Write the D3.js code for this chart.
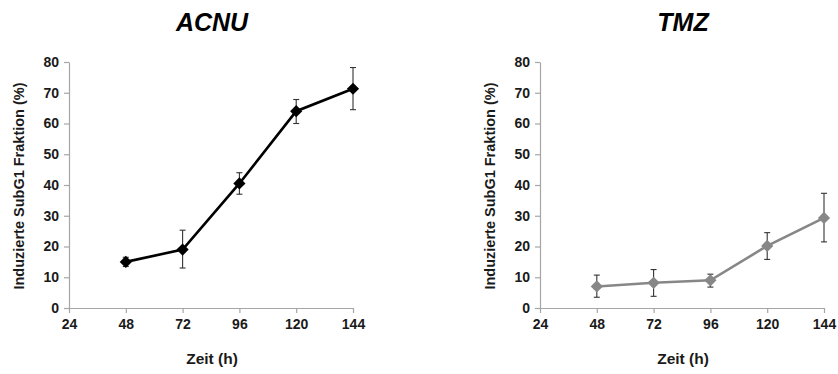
<!DOCTYPE html>
<html><head><meta charset="utf-8">
<script src="https://cdn.jsdelivr.net/npm/d3@7"></script>
<style>body{margin:0;background:#fff}svg{display:block}</style>
</head><body>
<svg id="c" width="838" height="374"></svg>
<script>
const hours = [48, 72, 96, 120, 144];
const xTicks = [24, 48, 72, 96, 120, 144];
const yTicks = [0, 10, 20, 30, 40, 50, 60, 70, 80];
const acnuMean = [15, 19, 40.5, 64, 71.3];
const acnuLow  = [13.5, 13, 37, 60, 64.5];
const acnuHigh = [16.5, 25.3, 44, 67.8, 78.2];
const tmzMean = [7, 8.2, 9, 20.2, 29.3];
const tmzLow  = [3.5, 3.8, 6.8, 15.8, 21.5];
const tmzHigh = [10.7, 12.5, 11, 24.5, 37.3];
const titles = ["ACNU", "TMZ"];
const yTitle = "Induzierte SubG1 Fraktion (%)";
const xTitle = "Zeit (h)";

const svg = d3.select("#c");
const panels = [
  {title: titles[0], mean: acnuMean, low: acnuLow, high: acnuHigh, color: "#000", left: 69},
  {title: titles[1], mean: tmzMean, low: tmzLow, high: tmzHigh, color: "#878787", left: 540}
];
const plotW = 284, plotTop = 62, plotBottom = 308;
const font = "Liberation Sans, Arial, sans-serif";

panels.forEach(p => {
  const g = svg.append("g");
  const x = d3.scaleLinear().domain([24, 144]).range([p.left, p.left + plotW]);
  const y = d3.scaleLinear().domain([0, 80]).range([plotBottom, plotTop]);

  const xa = g.append("g").attr("transform", `translate(0,${plotBottom})`)
    .call(d3.axisBottom(x).tickValues(xTicks).tickSize(5).tickSizeOuter(0).tickPadding(6));
  const ya = g.append("g").attr("transform", `translate(${p.left},0)`)
    .call(d3.axisLeft(y).tickValues(yTicks).tickSize(5).tickSizeOuter(0).tickPadding(5));
  [xa, ya].forEach(a => {
    a.selectAll("path,line").attr("stroke", "#a6a6a6").attr("stroke-width", 1.2);
    a.selectAll("text").attr("font-family", font)
      .attr("font-size", 14).attr("font-weight", "bold").attr("fill", "#1a1a1a");
  });

  g.append("text").attr("x", p.left + 143).attr("y", 31).attr("text-anchor", "middle")
    .attr("font-family", font).attr("font-size", 25)
    .attr("font-weight", "bold").attr("font-style", "italic").attr("fill", "#000").text(p.title);

  g.append("text").attr("x", p.left + 143).attr("y", 364).attr("text-anchor", "middle")
    .attr("font-family", font).attr("font-size", 15.5)
    .attr("font-weight", "bold").attr("fill", "#1a1a1a").text(xTitle);

  g.append("text").attr("transform", `translate(${p.left - 45},${(plotTop + plotBottom) / 2 + 1}) rotate(-90)`)
    .attr("text-anchor", "middle")
    .attr("font-family", font).attr("font-size", 14.5).attr("font-weight", "bold")
    .attr("fill", "#1a1a1a").text(yTitle);

  const data = hours.map((h, i) => ({h, m: p.mean[i], lo: p.low[i], hi: p.high[i]}));

  const eb = g.append("g").attr("stroke", "#333").attr("stroke-width", 1.1);
  data.forEach(d => {
    eb.append("line").attr("x1", x(d.h)).attr("x2", x(d.h)).attr("y1", y(d.lo)).attr("y2", y(d.hi));
    eb.append("line").attr("x1", x(d.h) - 3).attr("x2", x(d.h) + 3).attr("y1", y(d.lo)).attr("y2", y(d.lo));
    eb.append("line").attr("x1", x(d.h) - 3).attr("x2", x(d.h) + 3).attr("y1", y(d.hi)).attr("y2", y(d.hi));
  });

  g.append("path").datum(data)
    .attr("d", d3.line().x(d => x(d.h)).y(d => y(d.m)))
    .attr("fill", "none").attr("stroke", p.color).attr("stroke-width", 2.6);

  g.selectAll(".pt").data(data).join("path")
    .attr("transform", d => `translate(${x(d.h)},${y(d.m)})`)
    .attr("d", d3.symbol().type(d3.symbolDiamond2).size(95))
    .attr("fill", p.color);
});
</script>
</body></html>
